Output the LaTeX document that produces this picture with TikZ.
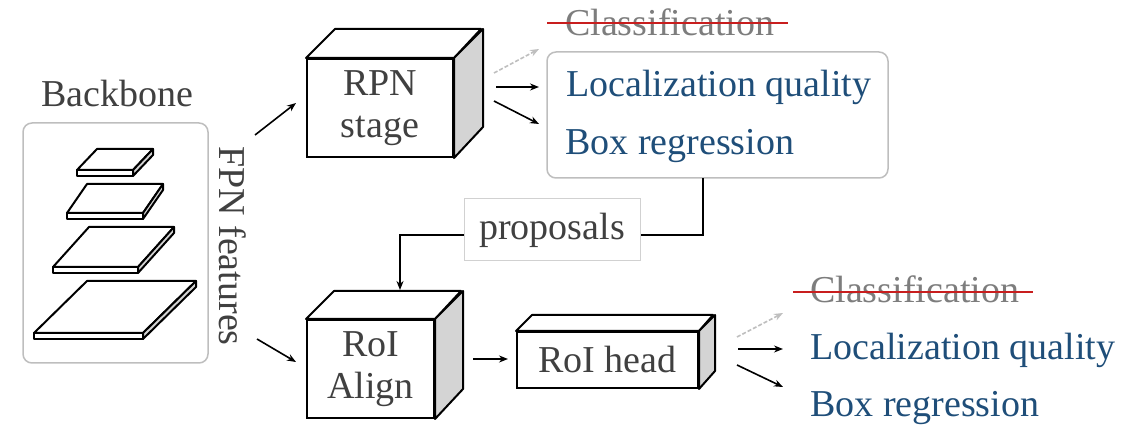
\documentclass[tikz,border=0pt]{standalone}
\usepackage{fontspec}
\setmainfont{Liberation Serif}
\usetikzlibrary{arrows.meta,calc}
\definecolor{txtgray}{RGB}{64,64,64}
\definecolor{outblue}{RGB}{31,78,121}
\definecolor{clsgray}{RGB}{125,125,125}
\definecolor{strike}{RGB}{200,30,30}
\definecolor{sidegray}{RGB}{212,212,212}
\definecolor{boxgray}{RGB}{190,190,190}
\newcommand\myplate[5]{%
  \draw[plateline] (#1,#2) -- ++(#4,-#5) -- ++(#3,0) -- ++(-#4,#5) -- cycle;
  \draw[plateline] (#1,#2) rectangle ++(#3,6);
  \draw[plateline,fill=sidegray] (#1+#3,#2) -- ++(#4,-#5) -- ++(0,6) -- ++(-#4,#5) -- cycle;}
\newcommand\mycube[3]{%
  \draw[cubeline,fill=white] (#1.north west) -- ++(#3,-#3) -- ++(#2,0) -- (#1.north east) -- cycle;
  \draw[cubeline,fill=sidegray] (#1.north east) -- ++(#3,-#3) -- ++(0,\cubeh) -- (#1.south east) -- cycle;}
\begin{document}
\begin{tikzpicture}[x=1pt,y=-1pt,
  font=\fontsize{38}{42}\selectfont,
  plateline/.style={line width=2pt,fill=white,line join=round},
  cubeline/.style={line width=2pt,line join=round},
  front/.style={draw,line width=2pt,fill=white,text=txtgray,align=center,inner sep=0pt},
  arr/.style={-{Stealth[length=9pt,width=7pt]},line width=1.6pt},
  darr/.style={-{Stealth[length=9pt,width=7pt]},line width=1.6pt,draw=black!25,dash pattern=on 4pt off 2pt},
  lbl/.style={anchor=base west,inner sep=0pt},
  outtxt/.style={lbl,text=outblue},
  clstxt/.style={lbl,text=clsgray},
  strikeline/.style={draw=strike,line width=2pt}]
\useasboundingbox (0,0) rectangle (1127,427);

% Backbone
\node[anchor=base,inner sep=0pt,text=txtgray] (bbt) at (117,107) {Backbone};
\node[draw=boxgray,line width=1.5pt,rounded corners=9pt,minimum width=185,minimum height=240,inner sep=0pt] (bb) at (115.5,243) {};
\myplate{77}{170}{56}{20}{21}
\myplate{67}{213}{76}{20}{29}
\myplate{53}{267}{85}{36}{40}
\myplate{34}{333}{109}{53}{52}
\node[rotate=-90,text=txtgray,inner sep=0pt] (fpn) at (233,246) {FPN features};

% RPN stage cube
\def\cubeh{98}
\node[front,minimum width=146,minimum height=98] (rpn) at (380,108) {RPN\\stage};
\mycube{rpn}{146}{29}

% RoI Align cube
\node[front,minimum width=127,minimum height=98] (ra) at (370.5,369) {RoI\\Align};
\mycube{ra}{127}{28}

% RoI head
\def\cubeh{56}
\node[front,minimum width=181,minimum height=56] (rh) at (607.5,360) {RoI head};
\mycube{rh}{181}{16}

% top outputs
\node[draw=boxgray,line width=1.5pt,rounded corners=9pt,minimum width=341,minimum height=126,inner sep=0pt] (ob) at (717.5,115) {};
\node[clstxt] (cls1) at (565,36) {Classification};
\draw[strikeline] (547,23) -- (788,23);
\node[outtxt] (loc1) at (566,97) {Localization quality};
\node[outtxt] (reg1) at (565,155) {Box regression};

% bottom outputs
\node[clstxt] (cls2) at (810,303) {Classification};
\draw[strikeline] (793,292) -- (1033,292);
\node[outtxt] (loc2) at (810,360) {Localization quality};
\node[outtxt] (reg2) at (810,417) {Box regression};

% proposals
\node[draw=black!18,line width=1pt,fill=white,text=txtgray,minimum width=176,minimum height=62,inner sep=0pt] (prop) at (552,230) {proposals};

% connector coordinates
\coordinate (bbo1) at (255,135);
\coordinate (bbo2) at (257,339);
\coordinate (rpnin) at (296,103);
\coordinate (rain) at (296,362);
\coordinate (ratop) at (400,290);
\coordinate (rpo1) at (494,73);
\coordinate (rpo2) at (496,87);
\coordinate (rpo3) at (494,101);
\coordinate (rpt1) at (539,49);
\coordinate (rpt2) at (539,87);
\coordinate (rpt3) at (539,124);
\coordinate (rho1) at (737,337);
\coordinate (rho2) at (738,349);
\coordinate (rho3) at (737,365);
\coordinate (rht1) at (783,313);
\coordinate (rht2) at (783,349);
\coordinate (rht3) at (783,387);
\coordinate (rao) at (473,359);
\coordinate (rhi) at (508,359);
\coordinate (obo) at (703,178);

\draw[arr] (bbo1) -- (rpnin);
\draw[arr] (bbo2) -- (rain);
\draw[darr] (rpo1) -- (rpt1);
\draw[arr] (rpo2) -- (rpt2);
\draw[arr] (rpo3) -- (rpt3);
\draw[darr] (rho1) -- (rht1);
\draw[arr] (rho2) -- (rht2);
\draw[arr] (rho3) -- (rht3);
\draw[arr] (rao) -- (rhi);
\draw[line width=1.6pt] (obo) |- ([yshift=-5pt]prop.east);
\draw[arr] ([yshift=-5pt]prop.west) -| (ratop);
\end{tikzpicture}
\end{document}
